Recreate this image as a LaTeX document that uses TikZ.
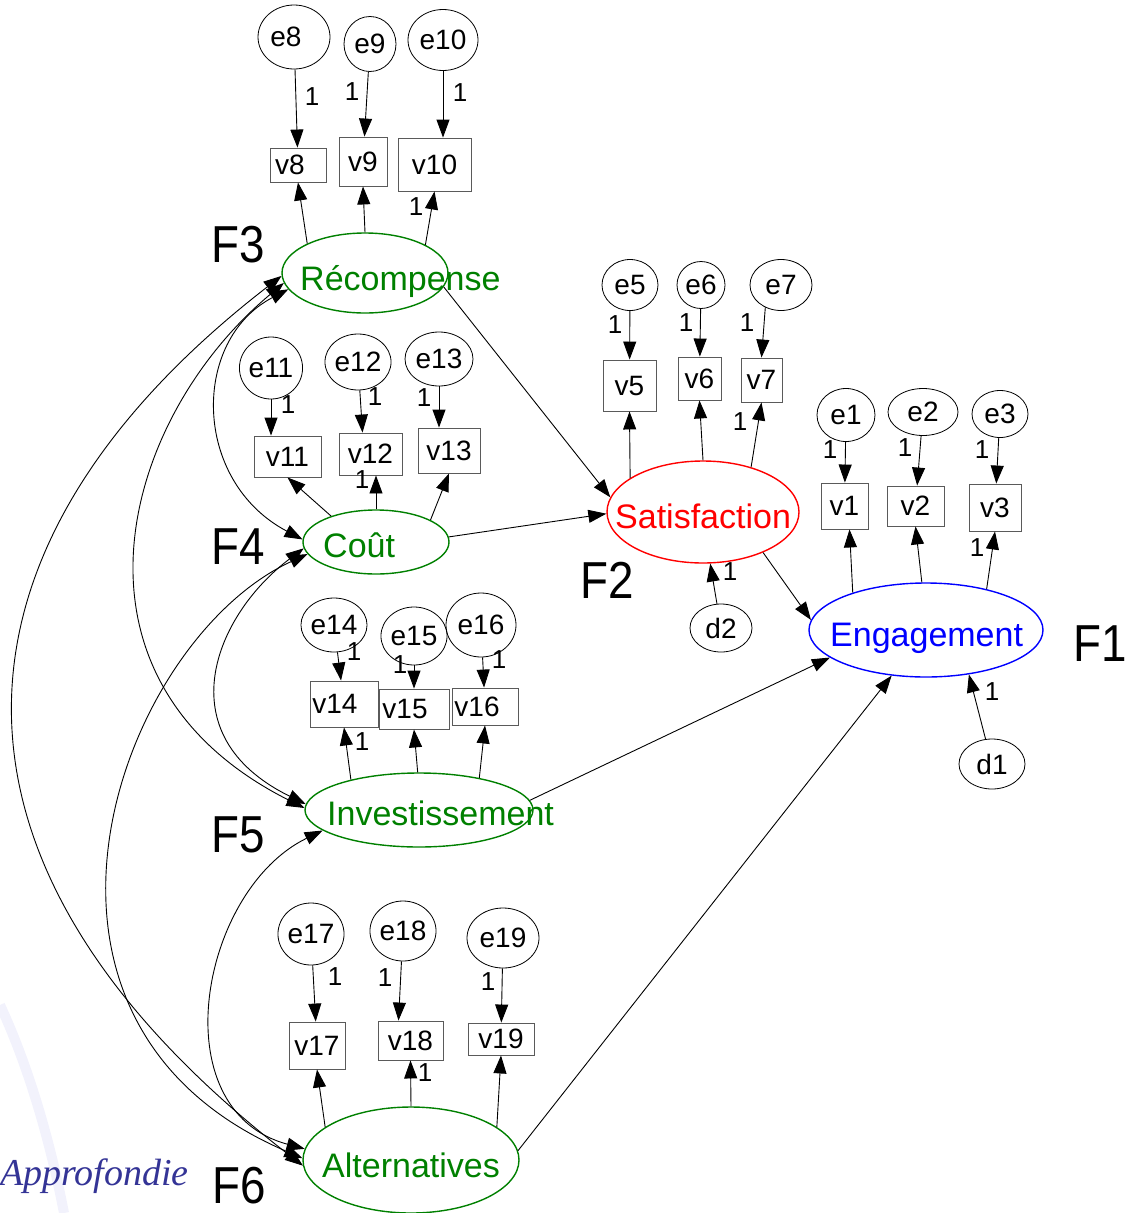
\documentclass[tikz,border=0pt]{standalone}
\usepackage{fontspec}
\setmainfont{Liberation Sans}
\newfontfamily\seriffont{Liberation Serif}
\usetikzlibrary{arrows.meta,shapes.geometric}

\definecolor{latgreen}{RGB}{0,128,0}
\definecolor{latred}{RGB}{255,0,0}
\definecolor{latblue}{RGB}{0,0,255}
\definecolor{boxgray}{RGB}{90,90,90}
\definecolor{approf}{RGB}{52,52,150}
\definecolor{haze}{RGB}{242,242,252}

\begin{document}
\begin{tikzpicture}[x=1pt,y=-1pt,
  tip/.style={-{Triangle[length=18pt,width=13pt]}},
  cov/.style={{Triangle[length=18pt,width=13pt]}-{Triangle[length=18pt,width=13pt]}},
  link/.style={line width=0.9pt, black},
  sz/.style 2 args={minimum width=#1pt, minimum height=#2pt},
  err/.style={ellipse, draw, line width=0.8pt, inner sep=0pt, font=\fontsize{28}{32}\selectfont},
  obs/.style={rectangle, draw=boxgray, line width=0.9pt, inner sep=0pt, font=\fontsize{28}{32}\selectfont},
  latent/.style={ellipse, draw, line width=1.4pt, inner sep=0pt},
  lattext/.style={anchor=base west, inner sep=0pt, font=\fontsize{34}{40}\selectfont},
  one/.style={inner sep=0pt, font=\fontsize{26}{30}\selectfont},
  factor/.style={inner sep=0pt, font=\fontsize{52}{60}\selectfont, xscale=0.88},
]
\useasboundingbox (0,0) rectangle (1130,1213);

% faint background swoosh
\draw[haze, line width=10pt] (0,1005) .. controls (28,1065) and (50,1140) .. (64,1213);

% latent factors
\node[latent, draw=latgreen, sz={166}{80}]  (rec)  at (365,273) {};
\node[latent, draw=latred,   sz={192}{102}] (sat)  at (703,512) {};
\node[latent, draw=latblue,  sz={234}{94}]  (eng)  at (926,630) {};
\node[latent, draw=latgreen, sz={146}{64}]  (cout) at (376,542) {};
\node[latent, draw=latgreen, sz={228}{74}]  (inv)  at (419,810) {};
\node[latent, draw=latgreen, sz={216}{106}] (alt)  at (411,1160) {};

\node[lattext, text=latgreen] (rec-t)  at (300,290)  {Récompense};
\node[lattext, text=latred]   (sat-t)  at (615,528)  {Satisfaction};
\node[lattext, text=latblue]  (eng-t)  at (830,646)  {Engagement};
\node[lattext, text=latgreen] (cout-t) at (323,557)  {Coût};
\node[lattext, text=latgreen] (inv-t)  at (327,825)  {Investissement};
\node[lattext, text=latgreen] (alt-t)  at (322,1177) {Alternatives};

% factor names
\node[factor] (F3) at (238,245)  {F3};
\node[factor] (F4) at (238,547)  {F4};
\node[factor] (F2) at (607,580)  {F2};
\node[factor] (F1) at (1100,644) {F1};
\node[factor] (F5) at (238,835)  {F5};
\node[factor] (F6) at (239,1186) {F6};

\node[inner sep=0pt, anchor=west, text=approf,
      font=\seriffont\itshape\fontsize{38}{40}\selectfont] (appr) at (0,1176) {Approfondie};

% observed variables
\node[obs, sz={56}{34}] (v8)  at (298,165)    {\hspace*{-16pt}v8};
\node[obs, sz={48}{49}] (v9)  at (363,161.5)  {v9};
\node[obs, sz={73}{53}] (v10) at (434.5,164.5) {v10};
\node[obs, sz={53}{51}] (v5)  at (629.5,385.5) {v5};
\node[obs, sz={43}{43}] (v6)  at (699.5,378.5) {v6};
\node[obs, sz={41}{44}] (v7)  at (761.5,380)  {v7};
\node[obs, sz={47}{46}] (v1)  at (844.5,506)  {v1};
\node[obs, sz={57}{40}] (v2)  at (915.5,506)  {v2};
\node[obs, sz={52}{47}] (v3)  at (995,507.5)  {v3};
\node[obs, sz={67}{41}] (v11) at (287.5,456.5) {v11};
\node[obs, sz={63}{42}] (v12) at (370.5,454)  {v12};
\node[obs, sz={62}{45}] (v13) at (449,450.5)  {v13};
\node[obs, sz={68}{46}] (v14) at (344,704)    {\hspace*{-18pt}v14};
\node[obs, sz={70}{40}] (v15) at (414,709)    {\hspace*{-18pt}v15};
\node[obs, sz={66}{37}] (v16) at (485,706.5)  {\hspace*{-16pt}v16};
\node[obs, sz={56}{47}] (v17) at (317,1045.5) {v17};
\node[obs, sz={65}{39}] (v18) at (410.5,1040.5) {v18};
\node[obs, sz={66}{32}] (v19) at (501,1039)   {v19};

% error and disturbance terms
\node[err, sz={72}{64}] (e8)  at (294,37)  {\hspace*{-16pt}e8};
\node[err, sz={52}{55}] (e9)  at (370,44)  {e9};
\node[err, sz={70}{61}] (e10) at (443,40)  {e10};
\node[err, sz={56}{51}] (e5)  at (630,285) {e5};
\node[err, sz={48}{47}] (e6)  at (701,285) {e6};
\node[err, sz={62}{51}] (e7)  at (781,285) {e7};
\node[err, sz={58}{53}] (e1)  at (846,415) {e1};
\node[err, sz={70}{47}] (e2)  at (923,412) {e2};
\node[err, sz={56}{47}] (e3)  at (1000,414) {e3};
\node[err, sz={62}{62}] (e11) at (271,368) {e11};
\node[err, sz={66}{56}] (e12) at (358,362) {e12};
\node[err, sz={68}{54}] (e13) at (439,359) {e13};
\node[err, sz={66}{54}] (e14) at (334,625) {e14};
\node[err, sz={62}{58}] (e15) at (414,636) {e15};
\node[err, sz={70}{64}] (e16) at (481,625) {e16};
\node[err, sz={64}{62}] (e17) at (311,934) {e17};
\node[err, sz={66}{60}] (e18) at (403,931) {e18};
\node[err, sz={72}{60}] (e19) at (503,938) {e19};
\node[err, sz={62}{48}] (d2)  at (721,628) {d2};
\node[err, sz={66}{50}] (d1)  at (992,764) {d1};

% error paths
\draw[link,tip] (e8) -- (v8);
\draw[link,tip] (e9) -- (v9);
\draw[link,tip] (e10) -- (e10 |- v10.north);
\draw[link,tip] (e5) -- (v5);
\draw[link,tip] (e6) -- (v6);
\draw[link,tip] (e7.-125) -- (v7.north);
\draw[link,tip] (e1) -- (v1);
\draw[link,tip] (e2) -- (v2);
\draw[link,tip] (e3) -- (v3);
\draw[link,tip] (e11) -- (e11 |- v11.north);
\draw[link,tip] (e12) -- ([xshift=-8pt]v12.north);
\draw[link,tip] (e13) -- (e13 |- v13.north);
\draw[link,tip] (e14) -- (v14);
\draw[link,tip] (e15) -- (v15);
\draw[link,tip] (e16) -- (v16);
\draw[link,tip] (e17) -- (v17);
\draw[link,tip] (e18) -- ([xshift=-12pt]v18.north);
\draw[link,tip] (e19) -- (v19);
\draw[link,tip] (d2) -- (sat.-82);
\draw[link,tip] (d1) -- (eng.-46);

% loadings
\draw[link,tip] (rec.153) -- (v8.south);
\draw[link,tip] (rec.90) -- (v9.south);
\draw[link,tip] (rec.25) -- (v10.south);
\draw[link,tip] (sat.155) -- (v5.south);
\draw[link,tip] (sat.90) -- (v6.south);
\draw[link,tip] (sat.43) -- (v7.south);
\draw[link,tip] (eng.153) -- ([xshift=5pt]v1.south);
\draw[link,tip] (eng.95) -- (v2.south);
\draw[link,tip] (eng.34) -- (v3.south);
\draw[link,tip] (cout.150) -- (v11.south);
\draw[link,tip] (cout.north) -- (cout.north |- v12.south);
\draw[link,tip] (cout.22) -- (v13.south);
\draw[link,tip] (inv.156) -- (v14.south);
\draw[link,tip] (inv.92) -- (v15.south);
\draw[link,tip] (inv.28) -- (v16.south);
\draw[link,tip] (alt.159) -- (v17.south);
\draw[link,tip] (alt.north) -- (v18.south);
\draw[link,tip] (alt.21) -- (v19.south);

% structural paths
\draw[link,tip] (rec.-10) -- (sat.171);
\draw[link,tip] (cout.4) -- (sat.181);
\draw[link,tip] (sat.-34) -- (eng.175);
\draw[link,tip] (inv.5) -- (eng.196);
\draw[link,tip] (alt.5) -- (eng.233);

% covariances between exogenous factors
\draw[link,cov] (rec.192) .. controls (191,340) and (192,481) .. (cout.178);
\draw[link,cov] (rec.187) .. controls (120,420) and (50,680) .. (inv.179);
\draw[link,cov] (rec.182) .. controls (-60,540) and (-95,858) .. (alt.183);
\draw[link,cov] (cout.185) .. controls (215,615) and (165,735) .. (inv.177);
\draw[link,cov] (cout.190) .. controls (120,640) and (-20,1020) .. (alt.179);
\draw[link,cov] (inv.192) .. controls (200,890) and (160,1110) .. (alt.174);

% fixed parameters
\node[one] (o8)  at (312,97)  {1};
\node[one] (o9)  at (352,92)  {1};
\node[one] (o10) at (460,93)  {1};
\node[one] (r10) at (416,207) {1};
\node[one] (o5)  at (615,325) {1};
\node[one] (o6)  at (686,323) {1};
\node[one] (o7)  at (747,323) {1};
\node[one] (s7)  at (740,422) {1};
\node[one] (o1)  at (830,450) {1};
\node[one] (o2)  at (905,448) {1};
\node[one] (o3)  at (982,450) {1};
\node[one] (g3)  at (977,548) {1};
\node[one] (od1) at (992,692) {1};
\node[one] (od2) at (730,572) {1};
\node[one] (o11) at (288,405) {1};
\node[one] (o12) at (375,397) {1};
\node[one] (o13) at (424,398) {1};
\node[one] (c12) at (362,480) {1};
\node[one] (o14) at (354,652) {1};
\node[one] (o15) at (400,665) {1};
\node[one] (o16) at (499,660) {1};
\node[one] (i14) at (362,742) {1};
\node[one] (o17) at (335,977) {1};
\node[one] (o18) at (385,978) {1};
\node[one] (o19) at (488,982) {1};
\node[one] (a18) at (425,1073) {1};
\end{tikzpicture}
\end{document}
